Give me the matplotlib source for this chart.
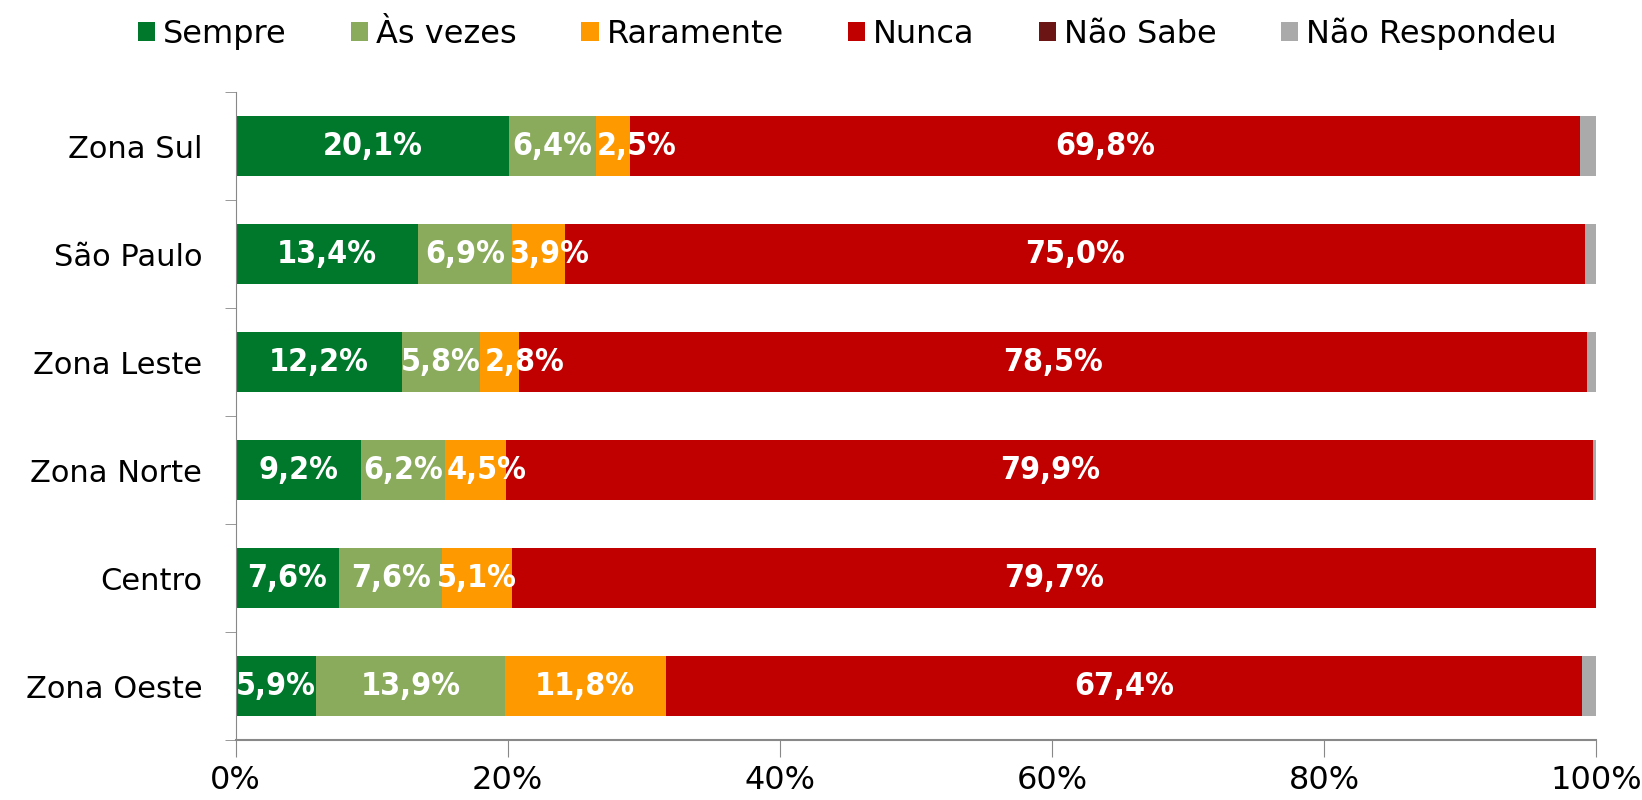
import numpy as np
import matplotlib.pyplot as plt
from matplotlib.ticker import FixedLocator, FuncFormatter

# data (top to bottom)
regioes = ["Zona Sul", "São Paulo", "Zona Leste", "Zona Norte", "Centro", "Zona Oeste"]
sempre = [20.1, 13.4, 12.2, 9.2, 7.6, 5.9]
as_vezes = [6.4, 6.9, 5.8, 6.2, 7.6, 13.9]
raramente = [2.5, 3.9, 2.8, 4.5, 5.1, 11.8]
nunca = [69.8, 75.0, 78.5, 79.9, 79.7, 67.4]
nao_sabe = [0.0, 0.0, 0.0, 0.0, 0.0, 0.0]
nao_respondeu = [1.2, 0.8, 0.7, 0.2, 0.0, 1.0]

series = [sempre, as_vezes, raramente, nunca, nao_sabe, nao_respondeu]
nomes = ["Sempre", "Às vezes", "Raramente", "Nunca", "Não Sabe", "Não Respondeu"]
cores = ["#00782B", "#8BAB5C", "#FF9900", "#C00000", "#6B1515", "#AAAAAA"]
mostrar = [True, True, True, True, False, False]

plt.rcParams['font.family'] = ['DejaVu Sans']

fig = plt.figure(figsize=(16.42, 8), dpi=100)
ax = fig.add_axes([0.1435, 0.075, 0.8285, 0.81])

y = np.arange(len(regioes))
left = np.zeros(len(regioes))
rotulos = {i: [] for i in y}
for vals, nome, cor, show in zip(series, nomes, cores, mostrar):
    vals = np.array(vals)
    ax.barh(y, vals, left=left, height=0.55, color=cor, label=nome)
    if show:
        for yi, l, v in zip(y, left, vals):
            if v > 0:
                t = ax.text(l + v / 2, yi, f"{v:.1f}%".replace(".", ","),
                            ha="center", va="center", color="white",
                            fontsize=23, fontweight="bold", fontstretch="condensed")
                rotulos[yi].append(t)
    left += vals

ax.set_xlim(0, 100)
ax.set_ylim(len(regioes) - 0.5, -0.5)
ax.set_yticks(y)
ax.set_yticklabels(regioes, fontsize=22)
ax.yaxis.set_minor_locator(FixedLocator(np.arange(-0.5, len(regioes), 1)))
ax.tick_params(axis="y", which="major", length=0, pad=24)
ax.tick_params(axis="y", which="minor", length=8, color="#888888")

ax.set_xticks(np.arange(0, 101, 20))
ax.xaxis.set_major_formatter(FuncFormatter(lambda v, p: f"{int(v)}%"))
ax.tick_params(axis="x", length=12, color="#888888", labelsize=23, pad=6)

for s in ["top", "right"]:
    ax.spines[s].set_visible(False)
for s in ["left", "bottom"]:
    ax.spines[s].set_color("#888888")
ax.spines["bottom"].set_linewidth(1.5)

fig.legend(loc="center", bbox_to_anchor=(0.516, 0.958), ncol=6, frameon=False,
           fontsize=23, handlelength=0.55, handleheight=0.55, handletextpad=0.25,
           columnspacing=2.0)

# push labels that run into the previous one a bit to the right
fig.canvas.draw()
r = fig.canvas.get_renderer()
inv = ax.transData.inverted()
for yi, ts in rotulos.items():
    for a, b in zip(ts[:-1], ts[1:]):
        ea = a.get_window_extent(r)
        eb = b.get_window_extent(r)
        if eb.x0 < ea.x1 + 4:
            dx = ea.x1 + 4 - eb.x0
            x0 = inv.transform((0, 0))[0]
            x1 = inv.transform((dx, 0))[0]
            b.set_x(b.get_position()[0] + (x1 - x0))

fig.savefig("out.png", dpi=100)
